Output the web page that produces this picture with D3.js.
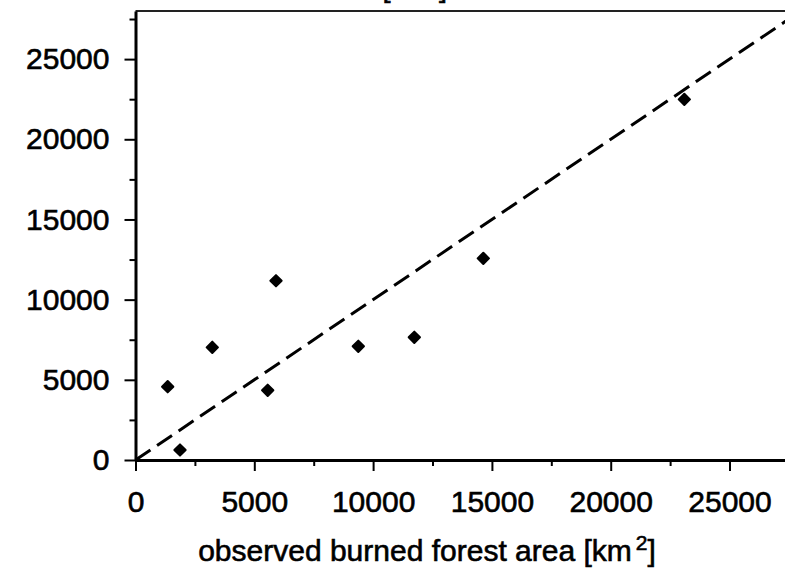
<!DOCTYPE html>
<html>
<head>
<meta charset="utf-8">
<script src="https://cdn.jsdelivr.net/npm/d3@7"></script>
<style>
  body { margin: 0; background: #fff; }
  svg { display: block; }
  text { font-family: Arial, "Liberation Sans", sans-serif; fill: #000; stroke: #000; stroke-width: 0.6px; }
  .axis path, .axis line { stroke: #000; }
  .axis text { font-size: 30px; }
</style>
</head>
<body>
<div id="chart"></div>
<script>
// Data (km2)
const observed  = [1355, 1873, 3232, 5564, 5913, 9377, 11734, 14638, 23098];
const simulated = [4570, 623, 7026, 4345, 11178, 7089, 7650, 12575, 22488];
const majorTicks = [0, 5000, 10000, 15000, 20000, 25000];
const minorTicks = [2500, 7500, 12500, 17500, 22500, 27500];
const axisMax = 28000;

// Set up dimensions
const margin = { top: 11, left: 135.5 };
const width = 665.3;
const height = 449;

const svg = d3.select("#chart")
    .append("svg")
    .attr("width", 785)
    .attr("height", 569)
    .append("g")
    .attr("transform", `translate(${margin.left},${margin.top})`);

const xScale = d3.scaleLinear().domain([0, axisMax]).range([0, width]);
const yScale = d3.scaleLinear().domain([0, axisMax]).range([height, 0]);

// cut-off title above the plot (only descenders show)
svg.append("text")
    .attr("x", 447 - margin.left)
    .attr("y", -14)
    .attr("text-anchor", "end")
    .style("font-size", "29px")
    .text("simulated burned forest area [km²]");

// top frame line
svg.append("line")
    .attr("x1", 0).attr("x2", width)
    .attr("y1", 0).attr("y2", 0)
    .attr("stroke", "#222")
    .attr("stroke-width", 2);

// minor ticks
svg.append("g")
    .attr("class", "axis")
    .attr("transform", `translate(0,${height})`)
    .call(d3.axisBottom(xScale).tickValues(minorTicks).tickSize(6).tickFormat(""))
    .call(g => g.select(".domain").remove())
    .selectAll("line").attr("stroke-width", 2);

svg.append("g")
    .attr("class", "axis")
    .call(d3.axisLeft(yScale).tickValues(minorTicks).tickSize(6).tickFormat(""))
    .call(g => g.select(".domain").remove())
    .selectAll("line").attr("stroke-width", 2);

// x-axis
const xAxis = svg.append("g")
    .attr("class", "axis")
    .attr("transform", `translate(0,${height})`)
    .call(d3.axisBottom(xScale).tickValues(majorTicks).tickSize(11).tickSizeOuter(0).tickPadding(20).tickFormat(d3.format("d")));
xAxis.select(".domain").attr("stroke-width", 3);
xAxis.selectAll(".tick line").attr("stroke-width", 2);

// y-axis
const yAxis = svg.append("g")
    .attr("class", "axis")
    .call(d3.axisLeft(yScale).tickValues(majorTicks).tickSize(11).tickSizeOuter(0).tickPadding(15).tickFormat(d3.format("d")));
yAxis.select(".domain").attr("stroke-width", 3);
yAxis.selectAll(".tick line").attr("stroke-width", 2);

// 1:1 line
svg.append("line")
    .attr("x1", xScale(0)).attr("y1", yScale(0))
    .attr("x2", xScale(axisMax)).attr("y2", yScale(axisMax))
    .attr("stroke", "#000")
    .attr("stroke-width", 3)
    .attr("stroke-dasharray", "18,8");

// points
const points = observed.map((d, i) => ({ x: d, y: simulated[i] }));
svg.selectAll(".dot")
    .data(points)
    .enter().append("path")
    .attr("class", "dot")
    .attr("d", d3.symbol(d3.symbolSquare, 64))
    .attr("transform", d => `translate(${xScale(d.x)},${yScale(d.y)}) rotate(45)`)
    .attr("fill", "#000")
    .attr("stroke", "#000")
    .attr("stroke-width", 2)
    .attr("stroke-linejoin", "round");

// x-axis label
const xLabel = svg.append("text")
    .attr("x", 427 - margin.left)
    .attr("y", 561 - margin.top)
    .attr("text-anchor", "middle")
    .style("font-size", "30px");
xLabel.append("tspan").text("observed burned forest area [km");
xLabel.append("tspan").attr("dx", 4).attr("dy", -11).style("font-size", "21px").text("2");
xLabel.append("tspan").attr("dy", 11).text("]");
</script>
</body>
</html>
